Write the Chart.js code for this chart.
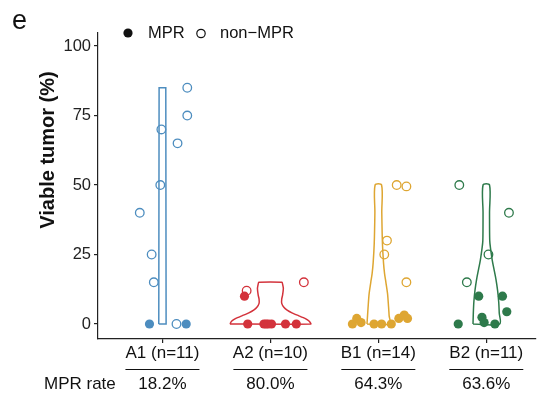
<!DOCTYPE html>
<html lang="en">
<head>
    <meta charset="UTF-8">
    <title>Viable tumor by group</title>
    <script src="https://cdn.jsdelivr.net/npm/chart.js"></script>
    <style>
        body { margin: 0; background: #fff; }
        canvas { display: block; }
    </style>
</head>
<body>
    <canvas id="chart" width="541" height="393"></canvas>

    <script>
        // categories and MPR rate row
        const categories = ['A1 (n=11)', 'A2 (n=10)', 'B1 (n=14)', 'B2 (n=11)'];
        const mprRates = ['18.2%', '80.0%', '64.3%', '63.6%'];
        const groupColors = ['#4d8dbf', '#d3323b', '#dea632', '#2e7a4b'];
        const yTicks = [0, 25, 50, 75, 100];

        // A1 - viable tumor (%) and horizontal jitter
        const a1MprTumor = [0, 0];
        const a1MprJitter = [-0.12, 0.22];
        const a1NonTumor = [85, 75, 70, 65, 50, 40, 25, 15, 0];
        const a1NonJitter = [0.23, 0.23, -0.01, 0.14, -0.02, -0.21, -0.10, -0.08, 0.13];
        const a1ViolinLevels = [0, 85];
        const a1ViolinWidth = [0.034, 0.031];

        // A2
        const a2MprTumor = [10, 0, 0, 0, 0, 0, 0, 0];
        const a2MprJitter = [-0.24, -0.21, -0.06, -0.04, -0.02, 0.01, 0.14, 0.24];
        const a2NonTumor = [15, 12];
        const a2NonJitter = [0.31, -0.22];
        const a2ViolinLevels = [0, 1, 2, 3, 4, 5, 6, 7.4, 9, 10.4, 12.8, 14, 15];
        const a2ViolinWidth = [0.375, 0.36, 0.32, 0.26, 0.2, 0.155, 0.125, 0.105, 0.105, 0.113, 0.12, 0.115, 0.108];

        // B1
        const b1MprTumor = [0, 2, 0.5, 0, 0, 0, 2, 3.2, 2];
        const b1MprJitter = [-0.24, -0.20, -0.16, -0.04, 0.03, 0.12, 0.19, 0.24, 0.27];
        const b1NonTumor = [50, 49.5, 30, 25, 15];
        const b1NonJitter = [0.17, 0.26, 0.08, 0.055, 0.26];
        const b1ViolinLevels = [0, 3, 6, 11, 15, 18, 22, 29, 40, 50];
        const b1ViolinWidth = [0.105, 0.1, 0.095, 0.085, 0.07, 0.058, 0.048, 0.038, 0.032, 0.03];

        // B2
        const b2MprTumor = [10, 10, 4.4, 2.4, 0.5, 0, 0];
        const b2MprJitter = [-0.07, 0.15, 0.19, -0.04, -0.02, 0.08, -0.26];
        const b2NonTumor = [50, 40, 25, 15];
        const b2NonJitter = [-0.25, 0.21, 0.02, -0.18];
        const b2ViolinLevels = [0, 4, 8, 12, 16, 20, 23, 27, 30, 40, 50];
        const b2ViolinWidth = [0.123, 0.12, 0.115, 0.105, 0.09, 0.07, 0.055, 0.04, 0.032, 0.03, 0.03];

        const FONT = "'Liberation Sans', Arial, sans-serif";

        const groups = [
            { mpr: a1MprTumor, mprJ: a1MprJitter, non: a1NonTumor, nonJ: a1NonJitter, lv: a1ViolinLevels, w: a1ViolinWidth, tension: 0 },
            { mpr: a2MprTumor, mprJ: a2MprJitter, non: a2NonTumor, nonJ: a2NonJitter, lv: a2ViolinLevels, w: a2ViolinWidth, tension: 0.12 },
            { mpr: b1MprTumor, mprJ: b1MprJitter, non: b1NonTumor, nonJ: b1NonJitter, lv: b1ViolinLevels, w: b1ViolinWidth, tension: 0.3 },
            { mpr: b2MprTumor, mprJ: b2MprJitter, non: b2NonTumor, nonJ: b2NonJitter, lv: b2ViolinLevels, w: b2ViolinWidth, tension: 0.3 },
        ];

        // outline of a trimmed violin: up the left side, down the right side
        function violinOutline(center, levels, widths) {
            const left = levels.map((y, i) => ({ x: center - widths[i], y: y }));
            const right = levels.map((y, i) => ({ x: center + widths[i], y: y })).reverse();
            return [...left, ...right, left[0]];
        }

        const datasets = [];
        groups.forEach((g, i) => {
            const pos = i + 1;
            const color = groupColors[i];
            datasets.push({
                label: 'violin ' + categories[i],
                data: violinOutline(pos, g.lv, g.w),
                showLine: true,
                fill: false,
                borderColor: color,
                borderWidth: 1.5,
                pointRadius: 0,
                tension: g.tension,
                order: 3,
            });
            datasets.push({
                label: 'non-MPR ' + categories[i],
                data: g.non.map((v, k) => ({ x: pos + g.nonJ[k], y: v })),
                pointRadius: 4.3,
                pointBorderWidth: 1.3,
                pointBorderColor: color,
                pointBackgroundColor: 'rgba(255,255,255,0)',
                order: 2,
            });
            datasets.push({
                label: 'MPR ' + categories[i],
                data: g.mpr.map((v, k) => ({ x: pos + g.mprJ[k], y: v })),
                pointRadius: 4.6,
                pointBorderWidth: 0,
                pointBackgroundColor: color,
                order: 1,
            });
        });

        // panel letter, legend, y title, underlines and MPR rate row
        const extras = {
            id: 'extras',
            afterDraw(chart) {
                const ctx = chart.ctx;
                const xs = chart.scales.x;
                ctx.save();
                ctx.fillStyle = '#111';
                ctx.textBaseline = 'alphabetic';
                ctx.font = '27px ' + FONT;
                ctx.fillText('e', 12, 29);

                // legend
                ctx.beginPath();
                ctx.arc(128, 33, 4.6, 0, Math.PI * 2);
                ctx.fill();
                ctx.font = '16.5px ' + FONT;
                ctx.textBaseline = 'middle';
                ctx.fillText('MPR', 148, 33);
                ctx.beginPath();
                ctx.arc(201, 33.5, 4.2, 0, Math.PI * 2);
                ctx.lineWidth = 1.2;
                ctx.strokeStyle = '#111';
                ctx.stroke();
                ctx.fillText('non\u2212MPR', 220, 33);

                // y axis title
                ctx.save();
                ctx.translate(48, 150);
                ctx.rotate(-Math.PI / 2);
                ctx.textAlign = 'center';
                ctx.font = 'bold 20px ' + FONT;
                ctx.fillText('Viable tumor (%)', 0, 0);
                ctx.restore();

                // underlines and rates
                ctx.textAlign = 'center';
                ctx.font = '17px ' + FONT;
                ctx.lineWidth = 1;
                categories.forEach((c, i) => {
                    const cx = xs.getPixelForValue(i + 1);
                    ctx.beginPath();
                    ctx.moveTo(cx - 37, 369.5);
                    ctx.lineTo(cx + 37, 369.5);
                    ctx.stroke();
                    ctx.fillText(mprRates[i], cx, 384);
                });
                ctx.textAlign = 'left';
                ctx.fillText('MPR rate', 44, 384);
                ctx.restore();
            }
        };

        const ctx = document.getElementById('chart').getContext('2d');
        const chart = new Chart(ctx, {
            type: 'scatter',
            data: { datasets: datasets },
            plugins: [extras],
            options: {
                responsive: false,
                animation: false,
                layout: { padding: { top: 33, left: 0, right: 4, bottom: 0 } },
                plugins: {
                    legend: { display: false },
                    tooltip: { enabled: false },
                },
                scales: {
                    x: {
                        type: 'linear',
                        min: 0.403,
                        max: 4.455,
                        afterFit: (scale) => { scale.height = 54; },
                        afterBuildTicks: (scale) => {
                            scale.ticks = categories.map((c, i) => ({ value: i + 1 }));
                        },
                        ticks: {
                            color: '#111',
                            padding: 0,
                            autoSkip: false,
                            maxRotation: 0,
                            font: { family: FONT, size: 17 },
                            callback: (v) => categories[v - 1],
                        },
                        grid: { drawOnChartArea: false, drawTicks: true, tickLength: 4, color: '#222', lineWidth: 1.2 },
                        border: { display: true, color: '#222', width: 1.2 },
                    },
                    y: {
                        min: -5.4,
                        max: 104.7,
                        afterFit: (scale) => { scale.width = 98; },
                        afterBuildTicks: (scale) => {
                            scale.ticks = yTicks.map((v) => ({ value: v }));
                        },
                        ticks: {
                            color: '#222',
                            padding: 3,
                            font: { family: FONT, size: 16.5 },
                        },
                        grid: { drawOnChartArea: false, drawTicks: true, tickLength: 4, color: '#222', lineWidth: 1.2 },
                        border: { display: true, color: '#222', width: 1.2 },
                    },
                },
            },
        });
    </script>
</body>
</html>
